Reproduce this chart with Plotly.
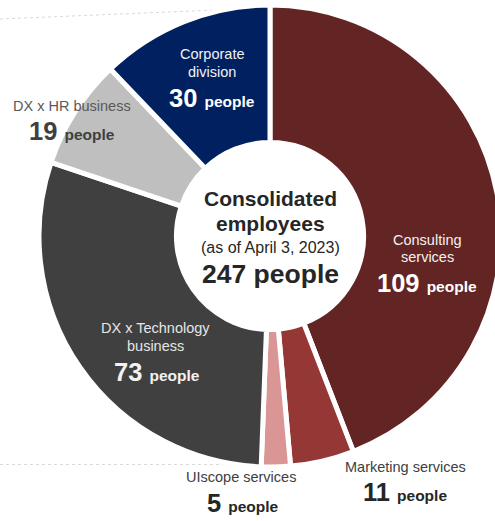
import plotly.graph_objects as go

# ---- data ----
categories = ["Consulting services", "Marketing services", "UIscope services",
              "DX x Technology business", "DX x HR business", "Corporate division"]
values = [109, 11, 5, 73, 19, 30]
label_lines = [["Consulting", "services"], ["Marketing services"], ["UIscope services"],
               ["DX x Technology", "business"], ["DX x HR business"], ["Corporate", "division"]]
unit = "people"
total = sum(values)
center_lines = ["Consolidated", "employees", "(as of April 3, 2023)"]

colors = ["#632523", "#953735", "#D99694", "#404040", "#BFBFBF", "#002060"]

W, H = 505, 521          # slightly wider than the window; right edge of the ring is cropped
FONT = "Liberation Sans, Arial, sans-serif"

# pie geometry (px)
cx, cy, r = 270, 236, 231

fig = go.Figure(go.Pie(
    labels=categories, values=values, sort=False, direction="clockwise",
    rotation=0, hole=0.405, textinfo="none", hoverinfo="label+value",
    marker=dict(colors=colors, line=dict(color="white", width=5)),
    domain=dict(x=[(cx - r) / W, (cx + r) / W],
                y=[(H - cy - r) / H, (H - cy + r) / H]),
    showlegend=False,
))

def px2paper(x, y):
    return x / W, 1 - y / H

annotations = []
def add(text, x, y, size, color, bold=False):
    xx, yy = px2paper(x, y)
    t = f"<b>{text}</b>" if bold else text
    annotations.append(dict(text=t, x=xx, y=yy, xref="paper", yref="paper",
                            xanchor="center", yanchor="middle", showarrow=False,
                            font=dict(family=FONT, size=size, color=color)))

# label layout: (name x, first name y, number x, number y, name color, number color)
layout_pos = [
    (427, 239.5, 427, 282.5, "#F2F2F2", "#FFFFFF"),
    (405, 466.5, 405, 492, "#404040", "#262626"),
    (241, 476.5, 243, 503, "#404040", "#262626"),
    (155, 328, 157, 372, "#E6E6E6", "#F2F2F2"),
    (72, 106, 72, 131, "#595959", "#404040"),
    (212, 54, 212, 98, "#F2F2F2", "#FFFFFF"),
]
for lines, v, (nx, ny, vx, vy, ncol, vcol) in zip(label_lines, values, layout_pos):
    for i, ln in enumerate(lines):
        add(ln, nx, ny + 17.5 * i, 14.5, ncol)
    add(f"<span style='font-size:25.5px'>{v}</span> <span style='font-size:15.5px'>{unit}</span>",
        vx, vy, 25.5, vcol, bold=True)

# center text
add(center_lines[0], 270, 198, 21, "#262626", bold=True)
add(center_lines[1], 270, 223, 21, "#262626", bold=True)
add(center_lines[2], 270, 247, 16, "#262626")
add(f"{total} {unit}", 270, 274, 26.5, "#262626", bold=True)

# faint background lines from the source slide
shapes = [
    dict(type="line", xref="paper", yref="paper", layer="below",
         x0=0, y0=1 - 19 / H, x1=240 / W, y1=1 - 9 / H,
         line=dict(color="#D9D9D9", width=1, dash="dot")),
    dict(type="line", xref="paper", yref="paper", layer="below",
         x0=0, y0=1 - 464.5 / H, x1=262 / W, y1=1 - 464.5 / H,
         line=dict(color="#D9D9D9", width=1, dash="dot")),
]

fig.update_layout(width=W, height=H, margin=dict(l=0, r=0, t=0, b=0),
                  paper_bgcolor="white", plot_bgcolor="white",
                  annotations=annotations, shapes=shapes)

fig.write_html("out.html",
               post_script="document.documentElement.style.overflow='hidden';"
                           "document.body.style.overflow='hidden';")
